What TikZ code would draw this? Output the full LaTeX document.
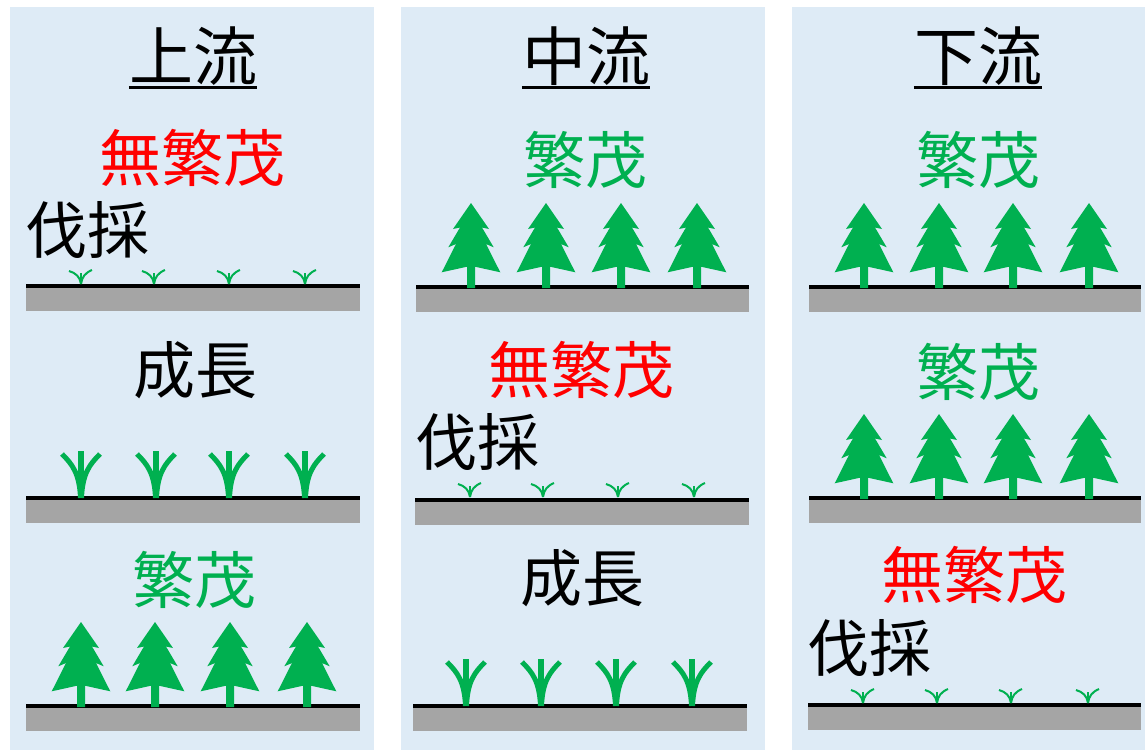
\documentclass[tikz,border=0pt]{standalone}
\usepackage{fontspec}
\newfontfamily\jpfont{Noto Sans CJK JP}
\definecolor{panelbg}{RGB}{222,235,246}
\definecolor{leaf}{RGB}{0,176,80}
\definecolor{soil}{RGB}{165,165,165}
\begin{document}
\begin{tikzpicture}[x=1pt,y=-1pt,
  lbl/.style={font=\jpfont\fontsize{62}{62}\selectfont, inner sep=0pt},
  ttl/.style={font=\jpfont\fontsize{64}{64}\selectfont, inner sep=0pt},
  tree/.pic={
    \fill[leaf] (0,-85) -- (18,-59) -- (11,-60.5) -- (22.7,-40.7) -- (15,-44)
      -- (29.3,-15.7) -- (4,-21.3) -- (4,0) -- (-4,0) -- (-4,-21.3)
      -- (-29.3,-15.7) -- (-15,-44) -- (-22.7,-40.7) -- (-11,-60.5)
      -- (-18,-59) -- cycle;
  },
  seedling/.pic={
    \draw[leaf,line width=5.5] (0,-48) -- (0,-1);
    \draw[leaf,line width=5] (-19,-45) .. controls (-9,-35) and (-1.5,-26) .. (-0.5,-1);
    \draw[leaf,line width=5] (19,-45) .. controls (9,-35) and (1.5,-26) .. (0.5,-1);
  },
  sprout/.pic={
    \draw[leaf,line width=2] (0,-11) -- (0,0);
    \draw[leaf,line width=2] (-12,-13) .. controls (-5,-11) and (-1,-7) .. (0,0);
    \draw[leaf,line width=2] (11,-14) .. controls (4,-11) and (1,-7) .. (0,0);
  },
]
\useasboundingbox (0,0) rectangle (1145,750);

% background panels
\fill[panelbg] (10,7) rectangle (374,750);
\fill[panelbg] (401,7) rectangle (765,750);
\fill[panelbg] (792,7) rectangle (1145,750);

% ground strips: black surface line above grey soil
\foreach \xa/\xb/\yg in {26/360/288, 26/360/500, 26/360/708,
                         416/749/289, 415/749/502, 413/747/708,
                         809/1141/289, 809/1141/500, 808/1141/707} {
  \fill[soil] (\xa,\yg) rectangle (\xb,\yg+23);
  \fill[black] (\xa,\yg-4) rectangle (\xb,\yg);
}

% column titles
\node[ttl] (t1) at (193,56) {上流};
\node[ttl] (t2) at (586,56) {中流};
\node[ttl] (t3) at (978,56) {下流};
\coordinate (uline) at (0,87);
\foreach \t in {t1,t2,t3}
  \draw[line width=3] (\t.west |- uline) -- (\t.east |- uline);

% upstream column
\node[lbl,text=red] (a1) at (192,158) {無繁茂};
\node[lbl,anchor=west] (a2) at (25,230) {伐採};
\foreach \x in {81,154,229,305} \pic at (\x,284) {sprout};
\node[lbl] (a3) at (195,370) {成長};
\foreach \x in {81,156,229,305} \pic at (\x,499) {seedling};
\node[lbl,text=leaf] (a4) at (194,580) {繁茂};
\foreach \x in {81,155,230,307} \pic at (\x,707) {tree};

% midstream column
\node[lbl,text=leaf] (b1) at (585,160) {繁茂};
\foreach \x in {471,546,621,697} \pic at (\x,288) {tree};
\node[lbl,text=red] (b2) at (581,370) {無繁茂};
\node[lbl,anchor=west] (b3) at (415,442) {伐採};
\foreach \x in {470,543,618,694} \pic at (\x,497) {sprout};
\node[lbl] (b4) at (582,578) {成長};
\foreach \x in {466,541,616,692} \pic at (\x,707) {seedling};

% downstream column
\node[lbl,text=leaf] (c1) at (978,160) {繁茂};
\foreach \x in {864,939,1013,1089} \pic at (\x,288) {tree};
\node[lbl,text=leaf] (c2) at (978,372) {繁茂};
\foreach \x in {864,939,1013,1089} \pic at (\x,499) {tree};
\node[lbl,text=red] (c3) at (974,575) {無繁茂};
\node[lbl,anchor=west] (c4) at (807,648) {伐採};
\foreach \x in {863,937,1011,1088} \pic at (\x,703) {sprout};
\end{tikzpicture}
\end{document}
